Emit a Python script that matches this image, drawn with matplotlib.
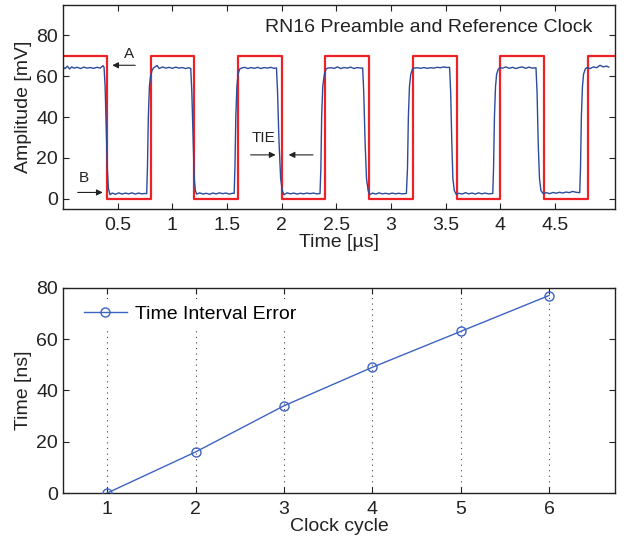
import matplotlib
matplotlib.use("Agg")
import matplotlib.pyplot as plt

plt.rcParams['font.family'] = ['Liberation Sans', 'DejaVu Sans']

# reference clock (square wave), edges every 0.4 us
clock_t = [0.0, 0.4, 0.4, 0.8, 0.8, 1.2, 1.2, 1.6, 1.6, 2.0, 2.0, 2.4, 2.4, 2.8, 2.8,
           3.2, 3.2, 3.6, 3.6, 4.0, 4.0, 4.4, 4.4, 4.8, 4.8, 5.05]
clock_mv = [70, 70, 0, 0, 70, 70, 0, 0, 70, 70, 0, 0, 70, 70, 0,
            0, 70, 70, 0, 0, 70, 70, 0, 0, 70, 70]

blue_t = [
    0.0, 0.02, 0.04, 0.06, 0.08, 0.10, 0.13, 0.16, 0.19, 0.22, 0.25, 0.28, 0.31, 0.34, 0.365, 0.375,
    0.385, 0.395, 0.405, 0.415, 0.43,
    0.45, 0.48, 0.51, 0.54, 0.57, 0.60, 0.63, 0.66, 0.69, 0.72, 0.75, 0.765,
    0.772, 0.78, 0.79, 0.80, 0.815, 0.83,
    0.86, 0.88, 0.91, 0.94, 0.97, 1.00, 1.03, 1.06, 1.09, 1.12, 1.15, 1.168,
    1.178, 1.19, 1.20, 1.21, 1.222,
    1.25, 1.28, 1.31, 1.34, 1.37, 1.40, 1.43, 1.46, 1.49, 1.52, 1.55, 1.565,
    1.572, 1.58, 1.59, 1.60, 1.615, 1.63,
    1.66, 1.69, 1.72, 1.75, 1.78, 1.81, 1.84, 1.87, 1.90, 1.93, 1.952,
    1.962, 1.975, 1.99, 2.005, 2.02,
    2.05, 2.08, 2.11, 2.14, 2.17, 2.20, 2.23, 2.26, 2.29, 2.32, 2.35,
    2.358, 2.365, 2.375, 2.39, 2.405, 2.42,
    2.45, 2.48, 2.51, 2.54, 2.57, 2.60, 2.63, 2.66, 2.69, 2.72, 2.74,
    2.75, 2.762, 2.775, 2.79, 2.805,
    2.83, 2.86, 2.89, 2.92, 2.95, 2.98, 3.01, 3.04, 3.07, 3.10, 3.14,
    3.15, 3.158, 3.168, 3.18, 3.195, 3.21,
    3.24, 3.27, 3.30, 3.33, 3.36, 3.39, 3.42, 3.45, 3.48, 3.51, 3.535,
    3.545, 3.555, 3.565, 3.578, 3.595,
    3.62, 3.65, 3.68, 3.71, 3.74, 3.77, 3.80, 3.83, 3.86, 3.89, 3.93,
    3.937, 3.945, 3.955, 3.965, 3.98, 3.995,
    4.02, 4.05, 4.08, 4.11, 4.14, 4.17, 4.20, 4.23, 4.26, 4.29, 4.325,
    4.335, 4.345, 4.357, 4.37, 4.39,
    4.42, 4.45, 4.48, 4.51, 4.54, 4.57, 4.60, 4.63, 4.66, 4.69, 4.725,
    4.732, 4.74, 4.75, 4.76, 4.775, 4.79,
    4.82, 4.85, 4.88, 4.91, 4.94, 4.97, 4.99,
]
blue_mv = [
    64.5, 63.8, 65.0, 63.6, 64.6, 64.0, 64.4, 63.8, 64.5, 64.0, 64.3, 63.9, 64.4, 64.0, 65.2, 64.5,
    55, 35, 15, 5, 2.0,
    2.8, 2.2, 2.9, 2.3, 2.8, 2.4, 2.9, 2.3, 2.8, 2.4, 2.6, 2.5,
    15, 40, 55, 60, 63, 64.2,
    65.3, 63.8, 64.6, 64.0, 64.4, 63.9, 64.5, 64.0, 64.3, 63.8, 64.2, 63.8,
    52, 28, 10, 4, 2.3,
    2.9, 2.3, 2.7, 2.2, 2.8, 2.4, 2.9, 2.5, 2.8, 2.3, 2.7, 2.6,
    15, 40, 55, 61, 63.5, 64,
    64.4, 63.8, 64.3, 63.9, 64.4, 63.8, 64.3, 64.0, 64.4, 63.9, 64.1,
    52, 28, 10, 4, 2.0,
    2.9, 2.4, 2.8, 2.3, 2.7, 2.4, 2.8, 2.5, 2.8, 2.4, 2.6,
    15, 40, 55, 61, 63.5, 64,
    64.2, 63.9, 64.6, 63.8, 64.3, 64.0, 64.5, 63.8, 64.3, 64.0, 64.1,
    52, 28, 10, 4, 2.0,
    2.8, 2.3, 2.9, 2.4, 2.7, 2.3, 2.8, 2.4, 2.7, 2.4, 2.6,
    15, 40, 55, 61, 63.5, 64,
    64.2, 63.9, 64.3, 63.9, 64.2, 64.0, 64.4, 64.2, 64.6, 64.3, 64.4,
    52, 28, 10, 4, 2.2,
    2.7, 2.3, 3.0, 2.4, 2.8, 2.3, 2.9, 2.4, 2.8, 2.4, 2.6,
    15, 40, 55, 61, 63.5, 64.2,
    64.0, 64.6, 63.9, 64.4, 63.8, 64.3, 64.6, 63.9, 64.5, 64.0, 64.2,
    52, 28, 10, 4, 2.6,
    3.0, 2.5, 3.1, 2.7, 3.2, 2.8, 3.3, 3.0, 3.6, 3.2, 3.0,
    15, 40, 55, 61, 63.5, 64.3,
    63.8, 64.6, 64.2, 65.4, 64.6, 65.0, 64.5,
]

# time interval error per clock cycle
cycles = [1, 2, 3, 4, 5, 6]
tie_ns = [0, 16, 34, 49, 63, 77]

txt = '#222222'
fs = 14
fig = plt.figure(figsize=(6.24, 5.4), dpi=100)

# ---- top: waveform ----
ax1 = fig.add_axes([0.101, 0.613, 0.885, 0.378])
ax1.plot(clock_t, clock_mv, color='#ee2226', lw=1.6)
ax1.plot(blue_t, blue_mv, color='#2b4c9b', lw=1.0)
ax1.set_xlim(0, 5.05)
ax1.set_ylim(-5, 95)
ax1.set_xticks([0.5, 1, 1.5, 2, 2.5, 3, 3.5, 4, 4.5])
ax1.set_xticklabels(['0.5', '1', '1.5', '2', '2.5', '3', '3.5', '4', '4.5'])
ax1.set_yticks([0, 20, 40, 60, 80])
ax1.set_xlabel('Time [µs]', fontsize=fs, color=txt, labelpad=0)
ax1.set_ylabel('Amplitude [mV]', fontsize=fs, color=txt, labelpad=3)
ax1.text(0.958, 0.887, 'RN16 Preamble and Reference Clock', transform=ax1.transAxes,
         ha='right', va='center', fontsize=fs, color=txt)

arrow = dict(arrowstyle='-|>', color=txt, lw=0.8, mutation_scale=9, shrinkA=0, shrinkB=0)
ax1.annotate('', xy=(0.45, 65.4), xytext=(0.66, 65.4), arrowprops=arrow)
ax1.text(0.60, 71, 'A', fontsize=11, color=txt, ha='center', va='center')
ax1.annotate('', xy=(0.363, 3.1), xytext=(0.134, 3.1), arrowprops=arrow)
ax1.text(0.186, 10.2, 'B', fontsize=11, color=txt, ha='center', va='center')
ax1.annotate('', xy=(1.944, 21.5), xytext=(1.715, 21.5), arrowprops=arrow)
ax1.annotate('', xy=(2.063, 21.5), xytext=(2.286, 21.5), arrowprops=arrow)
ax1.text(1.834, 29.8, 'TIE', fontsize=11, color=txt, ha='center', va='center')

# ---- bottom: TIE ----
ax2 = fig.add_axes([0.101, 0.087, 0.885, 0.380])
for c in cycles:
    ax2.axvline(c, linestyle=(0, (1, 4)), color='#444444', lw=0.8, zorder=1)
ax2.plot(cycles, tie_ns, color='#3d63c3', lw=1.0, marker='o', ms=6.5,
         mfc='none', mec='#3d63c3', mew=1.0, label='Time Interval Error', zorder=3)
ax2.set_xlim(0.5, 6.75)
ax2.set_ylim(0, 80)
ax2.set_xticks(cycles)
ax2.set_yticks([0, 20, 40, 60, 80])
ax2.set_xlabel('Clock cycle', fontsize=fs, color=txt, labelpad=0)
ax2.set_ylabel('Time [ns]', fontsize=fs, color=txt, labelpad=3)
leg = ax2.legend(loc='upper left', frameon=True, fontsize=fs, handlelength=2.2,
                 handletextpad=0.4, bbox_to_anchor=(0.01, 0.99), borderpad=0.3,
                 fancybox=False, edgecolor='none', facecolor='white', framealpha=1)
leg.set_zorder(1.2)

for ax in (ax1, ax2):
    ax.tick_params(direction='in', top=True, right=True, length=4.5, width=0.8,
                   labelsize=fs, labelcolor=txt, color=txt)
    ax.tick_params(axis='x', pad=6)
    for s in ax.spines.values():
        s.set_linewidth(1.0)
        s.set_color(txt)

fig.savefig('out.png', dpi=100)
